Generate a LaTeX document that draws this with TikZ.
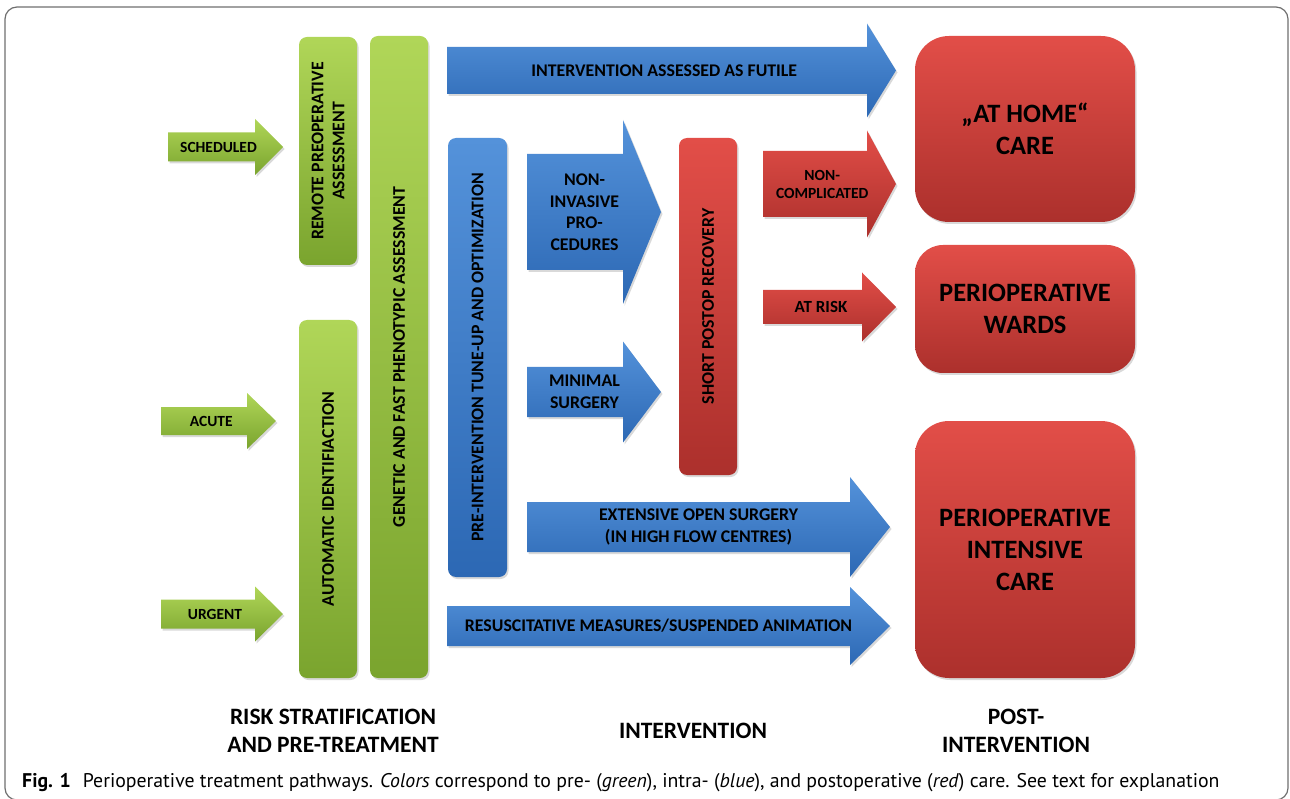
\documentclass[tikz,border=0pt]{standalone}
\usepackage{fontspec}
\setmainfont{Carlito}
\newfontfamily\capfont{PT Sans}
\usetikzlibrary{positioning,shadows}
\definecolor{greenTop}{RGB}{176,214,88}
\definecolor{greenBot}{RGB}{122,164,46}
\definecolor{blueTop}{RGB}{84,146,218}
\definecolor{blueBot}{RGB}{44,104,180}
\definecolor{redTop}{RGB}{226,78,72}
\definecolor{redBot}{RGB}{172,48,44}
\definecolor{frameGray}{RGB}{110,110,110}
\tikzset{
	flow/.style={x=1pt,y=-1pt},
	shade3d/.style={drop shadow={shadow xshift=1.5pt,shadow yshift=-2pt,opacity=.3}},
	bar/.style={shade3d,rounded corners=8pt,inner sep=0pt,align=center,
		font=\bfseries\fontsize{17.8}{21}\selectfont},
	greenbar/.style={bar,top color=greenTop,bottom color=greenBot},
	bluebar/.style={bar,top color=blueTop,bottom color=blueBot},
	redbar/.style={bar,top color=redTop,bottom color=redBot},
	bigbox/.style={shade3d,rounded corners=34pt,inner sep=0pt,align=center,
		top color=redTop,bottom color=redBot,minimum width=220pt,
		font=\bfseries\fontsize{26.5}{32}\selectfont},
	greenarrow/.style={shade3d,top color=greenTop,bottom color=greenBot},
	bluearrow/.style={shade3d,top color=blueTop,bottom color=blueBot},
	redarrow/.style={shade3d,top color=redTop,bottom color=redBot},
	greenarrow label/.style={align=center,font=\bfseries\fontsize{15.5}{18}\selectfont},
	bluearrow label/.style={align=center,font=\bfseries\fontsize{17.8}{21.5}\selectfont},
	redarrow label/.style={align=center,font=\bfseries\fontsize{15.5}{18}\selectfont},
	phase/.style={align=center,font=\bfseries\fontsize{23.5}{28}\selectfont}
}
% name, style, left, head start, tip, mid y, half shaft, half head, text
\newcommand{\blockarrow}[9]{%
	\path[#2] (#3,#6-#7) -- (#4,#6-#7) -- (#4,#6-#8) -- (#5,#6)
		-- (#4,#6+#8) -- (#4,#6+#7) -- (#3,#6+#7) -- cycle;
	\node[#2 label] (#1) at ({(2*#3+#4+#5)/4},#6) {#9};
}

\begin{document}
\begin{tikzpicture}[flow]
	\useasboundingbox (0,0) rectangle (1290,799);
	\draw[frameGray,line width=1.2pt,rounded corners=12pt] (5,7) rectangle (1288,800);
	
	% pre-treatment
	\blockarrow{sched}{greenarrow}{168}{255}{283}{147}{14.5}{28}{SCHEDULED}
	\blockarrow{acute}{greenarrow}{161}{247}{276}{421}{14}{28}{ACUTE}
	\blockarrow{urgent}{greenarrow}{161}{255}{283}{614}{14.5}{27.5}{URGENT}
	
	\node[greenbar,rotate=90,minimum width=228pt,minimum height=58pt] (remote) at (328,151)
		{REMOTE PREOPERATIVE\\ASSESSMENT};
	\node[greenbar,rotate=90,minimum width=358pt,minimum height=58pt] (autoid) at (328,499)
		{AUTOMATIC IDENTIFIACTION};
	\node[greenbar,rotate=90,minimum width=642pt,minimum height=58pt] (genetic) at (399,357)
		{GENETIC AND FAST PHENOTYPIC ASSESSMENT};
	
	% intervention
	\blockarrow{futile}{bluearrow}{447}{867}{896}{70.5}{23.5}{47}{INTERVENTION ASSESSED AS FUTILE}
	\node[bluebar,rotate=90,minimum width=439pt,minimum height=59pt] (tuneup) at (477.5,357.5)
		{PRE-INTERVENTION TUNE-UP AND OPTIMIZATION};
	\blockarrow{noninv}{bluearrow}{527}{623}{661}{212}{58}{92}{NON-\\INVASIVE\\PRO-\\CEDURES}
	\blockarrow{minimal}{bluearrow}{527}{623}{661}{392}{25}{50.5}{MINIMAL\\SURGERY}
	\blockarrow{extensive}{bluearrow}{527}{850}{890}{527}{25}{50}{EXTENSIVE OPEN SURGERY\\(IN HIGH FLOW CENTRES)}
	\blockarrow{resusc}{bluearrow}{447}{850}{890}{626}{20}{39}{RESUSCITATIVE MEASURES/SUSPENDED ANIMATION}
	
	% post-intervention
	\node[redbar,rotate=90,minimum width=337pt,minimum height=58pt] (postop) at (708,306.5)
		{SHORT POSTOP RECOVERY};
	\blockarrow{noncompl}{redarrow}{763}{867}{896}{184}{33}{53.5}{NON-\\COMPLICATED}
	\blockarrow{atrisk}{redarrow}{763}{862}{896}{307}{17}{34.5}{\fontsize{17}{20}\selectfont AT RISK}
	
	\node[bigbox,minimum height=186pt] (home) at (1025,129) {„AT HOME“\\CARE};
	\node[bigbox,minimum height=128pt,rounded corners=28pt] (wards) at (1025,309) {PERIOPERATIVE\\WARDS};
	\node[bigbox,minimum height=257pt] (icu) at (1025,549.5) {PERIOPERATIVE\\INTENSIVE\\CARE};
	
	% phases
	\node[phase] (phrisk) at (333,731) {RISK STRATIFICATION\\AND PRE-TREATMENT};
	\node[phase] (phint) at (693,731) {INTERVENTION};
	\node[phase] (phpost) at (1016,731) {POST-\\INTERVENTION};
	
	\node[anchor=base west,inner sep=0pt,font=\capfont\fontsize{19.8}{22}\selectfont] (caption) at (22,787)
		{\textbf{Fig. 1}\hspace{0.6em}Perioperative treatment pathways. \textit{Colors} correspond to pre- (\textit{green}), intra- (\textit{blue}), and postoperative (\textit{red}) care. See text for explanation};
\end{tikzpicture}
\end{document}
